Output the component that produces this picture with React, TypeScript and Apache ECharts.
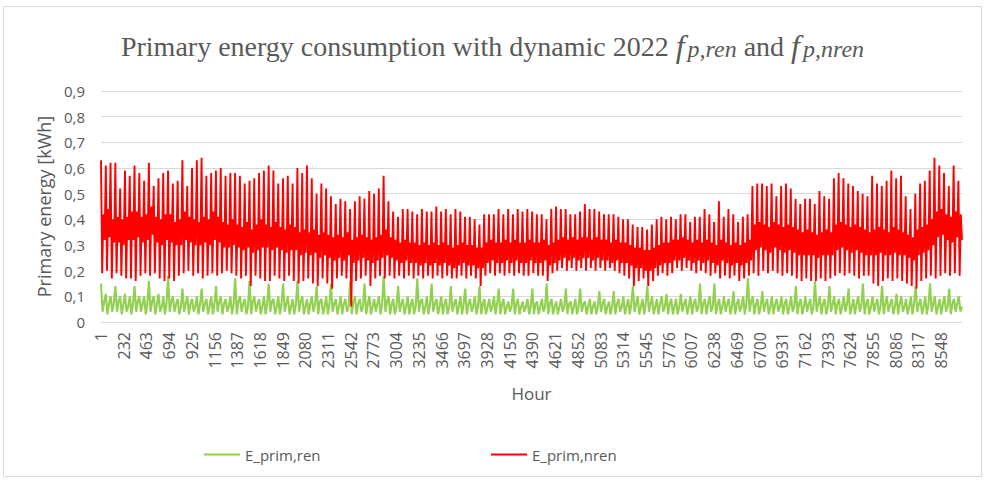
import React, { useEffect, useRef } from "react";
import * as echarts from "echarts";

// Hour categories 1..8760
const HOURS = 8760;
const hourLabels: string[] = Array.from({ length: HOURS }, (_, i) => String(i + 1));

// E_prim,nren readings, one group per ~2-day span: peak, trough, upper core, lower core
const nrenHigh = [
  0.63,0.61,0.62,0.62,0.52,0.59,0.57,0.61,0.58,0.55,
  0.62,0.53,0.56,0.58,0.59,0.54,0.55,0.63,0.53,0.60,
  0.63,0.64,0.57,0.58,0.59,0.60,0.57,0.58,0.58,0.57,
  0.54,0.55,0.56,0.58,0.59,0.61,0.59,0.54,0.56,0.57,
  0.54,0.60,0.58,0.61,0.56,0.50,0.54,0.52,0.49,0.46,
  0.48,0.47,0.44,0.47,0.49,0.48,0.51,0.50,0.52,0.57,
  0.47,0.43,0.41,0.44,0.44,0.43,0.42,0.44,0.43,0.43,
  0.45,0.43,0.44,0.42,0.44,0.43,0.41,0.41,0.40,0.38,
  0.42,0.42,0.42,0.44,0.42,0.44,0.42,0.44,0.43,0.44,
  0.43,0.42,0.42,0.40,0.44,0.45,0.44,0.44,0.42,0.42,
  0.43,0.46,0.44,0.44,0.43,0.42,0.42,0.42,0.41,0.40,
  0.40,0.38,0.37,0.37,0.36,0.38,0.40,0.41,0.40,0.41,
  0.40,0.42,0.42,0.39,0.41,0.41,0.44,0.42,0.39,0.47,
  0.41,0.44,0.42,0.39,0.41,0.42,0.53,0.54,0.54,0.53,
  0.54,0.49,0.53,0.54,0.52,0.48,0.46,0.48,0.48,0.46,
  0.51,0.49,0.48,0.56,0.58,0.56,0.54,0.53,0.51,0.50,
  0.49,0.57,0.54,0.53,0.55,0.59,0.56,0.57,0.49,0.44,
  0.50,0.54,0.55,0.59,0.64,0.61,0.58,0.53,0.61,0.55,
];
const nrenLow = [
  0.19,0.20,0.17,0.19,0.18,0.17,0.17,0.16,0.18,0.19,
  0.18,0.19,0.17,0.16,0.17,0.16,0.18,0.19,0.20,0.18,
  0.19,0.17,0.18,0.19,0.18,0.19,0.20,0.19,0.18,0.17,
  0.18,0.14,0.18,0.17,0.16,0.16,0.18,0.17,0.16,0.18,
  0.16,0.15,0.16,0.17,0.15,0.14,0.17,0.15,0.13,0.17,
  0.18,0.17,0.06,0.16,0.17,0.18,0.14,0.17,0.18,0.17,
  0.18,0.17,0.18,0.17,0.18,0.17,0.18,0.17,0.18,0.17,
  0.18,0.17,0.18,0.17,0.17,0.18,0.17,0.18,0.17,0.14,
  0.18,0.19,0.18,0.19,0.18,0.19,0.18,0.19,0.18,0.18,
  0.19,0.18,0.18,0.16,0.19,0.20,0.21,0.20,0.21,0.20,
  0.21,0.20,0.21,0.20,0.21,0.20,0.21,0.20,0.19,0.18,
  0.17,0.14,0.16,0.17,0.14,0.16,0.18,0.19,0.18,0.19,
  0.21,0.20,0.21,0.20,0.19,0.20,0.19,0.18,0.19,0.17,
  0.18,0.17,0.18,0.16,0.17,0.18,0.19,0.18,0.20,0.19,
  0.20,0.19,0.18,0.19,0.18,0.17,0.16,0.17,0.16,0.16,
  0.17,0.16,0.17,0.18,0.19,0.18,0.19,0.18,0.17,0.18,
  0.18,0.15,0.14,0.16,0.17,0.16,0.17,0.16,0.15,0.14,
  0.13,0.16,0.17,0.18,0.17,0.18,0.19,0.18,0.19,0.18,
];
const nrenCoreUp = [
  0.42,0.44,0.40,0.41,0.40,0.41,0.43,0.43,0.41,0.42,
  0.45,0.41,0.40,0.42,0.42,0.39,0.40,0.43,0.41,0.40,
  0.39,0.41,0.40,0.43,0.41,0.39,0.38,0.40,0.38,0.37,
  0.39,0.36,0.38,0.40,0.38,0.37,0.39,0.37,0.36,0.38,
  0.37,0.35,0.36,0.35,0.36,0.34,0.35,0.34,0.33,0.34,
  0.33,0.35,0.32,0.33,0.34,0.33,0.32,0.33,0.34,0.36,
  0.33,0.32,0.31,0.32,0.31,0.31,0.30,0.31,0.30,0.31,
  0.30,0.31,0.30,0.29,0.30,0.31,0.30,0.30,0.29,0.29,
  0.31,0.32,0.31,0.31,0.32,0.31,0.32,0.31,0.31,0.32,
  0.31,0.31,0.32,0.30,0.31,0.32,0.33,0.32,0.33,0.32,
  0.33,0.33,0.32,0.33,0.32,0.32,0.31,0.32,0.31,0.31,
  0.30,0.29,0.29,0.28,0.28,0.29,0.30,0.31,0.31,0.32,
  0.32,0.33,0.32,0.31,0.32,0.31,0.32,0.31,0.30,0.32,
  0.31,0.30,0.31,0.30,0.31,0.32,0.38,0.39,0.38,0.37,
  0.39,0.38,0.37,0.38,0.37,0.36,0.35,0.36,0.35,0.34,
  0.35,0.36,0.35,0.38,0.39,0.38,0.37,0.38,0.37,0.36,
  0.35,0.36,0.37,0.36,0.35,0.37,0.36,0.35,0.34,0.33,
  0.36,0.37,0.38,0.40,0.43,0.44,0.42,0.41,0.43,0.42,
];
const nrenCoreDown = [
  0.32,0.33,0.31,0.31,0.30,0.32,0.32,0.33,0.31,0.32,
  0.34,0.31,0.30,0.32,0.31,0.30,0.30,0.32,0.31,0.30,
  0.30,0.31,0.30,0.32,0.31,0.29,0.29,0.30,0.29,0.28,
  0.29,0.27,0.28,0.29,0.29,0.28,0.29,0.28,0.27,0.28,
  0.28,0.26,0.27,0.26,0.27,0.25,0.26,0.25,0.24,0.25,
  0.24,0.26,0.23,0.24,0.25,0.24,0.23,0.24,0.25,0.26,
  0.25,0.24,0.23,0.24,0.23,0.23,0.22,0.23,0.22,0.23,
  0.22,0.23,0.22,0.21,0.22,0.23,0.22,0.22,0.21,0.21,
  0.23,0.24,0.23,0.23,0.24,0.23,0.24,0.23,0.23,0.24,
  0.23,0.23,0.24,0.22,0.23,0.24,0.25,0.24,0.25,0.24,
  0.25,0.25,0.24,0.25,0.24,0.24,0.23,0.24,0.23,0.23,
  0.22,0.21,0.21,0.20,0.20,0.21,0.22,0.23,0.23,0.24,
  0.24,0.25,0.24,0.23,0.24,0.23,0.24,0.23,0.22,0.24,
  0.23,0.22,0.23,0.22,0.23,0.24,0.28,0.29,0.28,0.27,
  0.29,0.28,0.27,0.28,0.27,0.26,0.26,0.26,0.26,0.25,
  0.26,0.26,0.26,0.28,0.29,0.28,0.27,0.28,0.27,0.26,
  0.26,0.26,0.27,0.26,0.26,0.27,0.26,0.26,0.25,0.24,
  0.26,0.27,0.28,0.30,0.33,0.34,0.32,0.31,0.33,0.32,
];

// E_prim,ren readings, one group per ~2-day span: peak, trough, middle
const renHigh = [
  0.15,0.11,0.10,0.14,0.10,0.11,0.10,0.14,0.10,0.10,
  0.16,0.10,0.11,0.10,0.18,0.10,0.09,0.13,0.10,0.09,
  0.10,0.13,0.09,0.10,0.14,0.10,0.09,0.10,0.17,0.10,
  0.09,0.16,0.10,0.09,0.10,0.15,0.09,0.10,0.15,0.10,
  0.09,0.16,0.10,0.09,0.10,0.14,0.09,0.10,0.15,0.09,
  0.10,0.09,0.16,0.10,0.09,0.15,0.10,0.09,0.10,0.18,
  0.10,0.09,0.14,0.09,0.10,0.09,0.17,0.09,0.10,0.15,
  0.09,0.10,0.09,0.14,0.09,0.10,0.13,0.09,0.10,0.14,
  0.09,0.09,0.10,0.13,0.09,0.08,0.13,0.09,0.08,0.09,
  0.13,0.08,0.09,0.15,0.09,0.08,0.09,0.13,0.08,0.09,
  0.13,0.08,0.09,0.08,0.12,0.09,0.08,0.12,0.09,0.10,
  0.09,0.14,0.10,0.09,0.14,0.10,0.09,0.10,0.11,0.09,
  0.09,0.11,0.09,0.10,0.09,0.15,0.09,0.10,0.15,0.09,
  0.10,0.09,0.12,0.09,0.10,0.17,0.10,0.09,0.12,0.09,
  0.10,0.09,0.10,0.09,0.10,0.14,0.09,0.10,0.09,0.16,
  0.10,0.09,0.14,0.10,0.09,0.10,0.13,0.09,0.10,0.15,
  0.09,0.10,0.09,0.14,0.10,0.09,0.11,0.10,0.09,0.10,
  0.14,0.09,0.10,0.15,0.10,0.09,0.10,0.13,0.09,0.10,
];
const renLow = [
  0.04,0.03,0.04,0.04,0.03,0.04,0.03,0.04,0.04,0.03,
  0.04,0.03,0.04,0.03,0.04,0.04,0.03,0.04,0.03,0.04,
  0.03,0.04,0.03,0.03,0.04,0.03,0.04,0.03,0.03,0.04,
  0.03,0.03,0.04,0.03,0.03,0.04,0.03,0.03,0.04,0.03,
  0.03,0.04,0.03,0.03,0.04,0.03,0.03,0.03,0.04,0.03,
  0.03,0.04,0.03,0.03,0.04,0.03,0.03,0.04,0.03,0.04,
  0.03,0.03,0.04,0.03,0.03,0.03,0.04,0.03,0.03,0.04,
  0.03,0.03,0.03,0.04,0.03,0.03,0.03,0.04,0.03,0.03,
  0.03,0.04,0.03,0.03,0.03,0.04,0.03,0.03,0.04,0.03,
  0.03,0.03,0.04,0.03,0.03,0.03,0.04,0.03,0.03,0.03,
  0.04,0.03,0.03,0.03,0.04,0.03,0.03,0.03,0.04,0.03,
  0.03,0.04,0.03,0.03,0.04,0.03,0.03,0.04,0.03,0.03,
  0.03,0.04,0.03,0.03,0.04,0.03,0.03,0.04,0.03,0.03,
  0.04,0.03,0.03,0.04,0.03,0.04,0.03,0.03,0.04,0.03,
  0.03,0.04,0.03,0.03,0.04,0.03,0.03,0.04,0.03,0.04,
  0.03,0.03,0.04,0.03,0.03,0.04,0.03,0.03,0.04,0.03,
  0.03,0.04,0.03,0.03,0.04,0.03,0.03,0.04,0.03,0.03,
  0.04,0.03,0.03,0.04,0.03,0.03,0.04,0.03,0.04,0.04,
];
const renMid = [
  0.08,0.07,0.07,0.08,0.07,0.06,0.07,0.08,0.07,0.07,
  0.08,0.07,0.06,0.07,0.08,0.07,0.06,0.07,0.07,0.06,
  0.07,0.07,0.06,0.07,0.08,0.07,0.06,0.07,0.08,0.07,
  0.06,0.08,0.07,0.06,0.07,0.08,0.06,0.07,0.07,0.06,
  0.07,0.08,0.06,0.07,0.07,0.08,0.06,0.07,0.07,0.06,
  0.07,0.06,0.08,0.07,0.06,0.07,0.06,0.07,0.07,0.08,
  0.07,0.06,0.07,0.06,0.07,0.06,0.08,0.06,0.07,0.07,
  0.06,0.07,0.06,0.07,0.06,0.07,0.07,0.06,0.06,0.07,
  0.06,0.06,0.07,0.07,0.06,0.06,0.07,0.06,0.06,0.06,
  0.07,0.06,0.06,0.07,0.06,0.06,0.06,0.07,0.06,0.06,
  0.07,0.06,0.06,0.06,0.07,0.06,0.06,0.07,0.06,0.06,
  0.07,0.07,0.06,0.07,0.07,0.06,0.07,0.06,0.07,0.06,
  0.06,0.07,0.06,0.07,0.06,0.07,0.07,0.06,0.07,0.06,
  0.07,0.06,0.07,0.06,0.07,0.08,0.07,0.06,0.07,0.06,
  0.07,0.06,0.07,0.06,0.06,0.07,0.06,0.07,0.06,0.07,
  0.07,0.06,0.07,0.07,0.06,0.07,0.06,0.07,0.06,0.07,
  0.06,0.07,0.06,0.07,0.07,0.06,0.07,0.06,0.06,0.07,
  0.07,0.06,0.07,0.07,0.06,0.07,0.06,0.07,0.07,0.06,
];

const seriesNames = ["E_prim,ren", "E_prim,nren"];

// Place the readings in time order across the 8760 hour categories
function placeReadings(cols: number[][]): [number, number][] {
  const n = cols[0].length;
  const k = cols.length;
  const total = n * k;
  const out: [number, number][] = [];
  for (let i = 0; i < n; i++) {
    for (let j = 0; j < k; j++) {
      const idx = i * k + j;
      out.push([Math.round((idx * (HOURS - 1)) / (total - 1)), cols[j][i]]);
    }
  }
  return out;
}

const TXT = "#595959";
const SANS = "'Open Sans', sans-serif";
const SERIF = "'Liberation Serif', 'DejaVu Serif', serif";

export default function App() {
  const ref = useRef<HTMLDivElement>(null);
  useEffect(() => {
    if (!ref.current) return;
    const chart = echarts.init(ref.current, null, { renderer: "svg" });
    const legendBase = {
      icon: "rect",
      itemWidth: 36,
      itemHeight: 2,
      top: 442,
      textStyle: { color: TXT, fontSize: 15, fontFamily: SANS },
    };
    chart.setOption({
      animation: false,
      backgroundColor: "#ffffff",
      title: {
        text:
          "{a|Primary energy consumption with dynamic 2022 }{f|f}{s|p,ren}{a| and }{f|f}{s|p,nren}",
        left: "center",
        top: 25,
        textStyle: {
          fontWeight: "normal",
          rich: {
            a: { fontFamily: SERIF, fontSize: 28, fontWeight: "normal", color: TXT },
            f: { fontFamily: SERIF, fontSize: 32, fontWeight: "normal", fontStyle: "italic", color: TXT },
            s: { fontFamily: SERIF, fontSize: 24, fontWeight: "normal", fontStyle: "italic", color: TXT, padding: [6, 0, 0, 3] },
          },
        },
      },
      graphic: [
        {
          type: "rect",
          shape: { x: 3.5, y: 6.5, width: 978, height: 470 },
          style: { fill: "none", stroke: "#d9d9d9", lineWidth: 1 },
          silent: true,
          z: -10,
        },
      ],
      legend: [
        { ...legendBase, left: 199, data: [seriesNames[0]] },
        { ...legendBase, left: 486, data: [seriesNames[1]] },
      ],
      grid: { left: 101, right: 23, top: 91, bottom: 158 },
      xAxis: {
        type: "category",
        data: hourLabels,
        boundaryGap: false,
        name: "Hour",
        nameLocation: "middle",
        nameGap: 63,
        nameTextStyle: { color: TXT, fontSize: 17, fontFamily: SANS },
        axisLine: { lineStyle: { color: "#d9d9d9", width: 1 } },
        axisTick: { show: false },
        axisLabel: {
          interval: 230,
          rotate: 90,
          margin: 10,
          color: TXT,
          fontSize: 16,
          fontFamily: SANS,
        },
        splitLine: { show: false },
      },
      yAxis: {
        type: "value",
        min: 0,
        max: 0.9,
        interval: 0.1,
        name: "Primary energy [kWh]",
        nameLocation: "middle",
        nameGap: 46,
        nameTextStyle: { color: TXT, fontSize: 18, fontFamily: SANS },
        axisLine: { show: false },
        axisTick: { show: false },
        axisLabel: {
          margin: 16,
          color: TXT,
          fontSize: 15,
          fontFamily: SANS,
          formatter: (v: number) => (v === 0 ? "0" : v.toFixed(1).replace(".", ",")),
        },
        splitLine: { lineStyle: { color: "#d9d9d9", width: 1 } },
      },
      series: [
        {
          name: seriesNames[0],
          type: "line",
          data: placeReadings([renHigh, renLow, renMid]),
          showSymbol: false,
          symbol: "none",
          itemStyle: { color: "#92D050" },
          lineStyle: { color: "#92D050", width: 2.1 },
        },
        {
          name: seriesNames[1],
          type: "line",
          data: placeReadings([nrenHigh, nrenLow, nrenCoreUp, nrenCoreDown]),
          showSymbol: false,
          symbol: "none",
          itemStyle: { color: "#FF0000" },
          lineStyle: { color: "#FF0000", width: 1.9 },
        },
      ],
    });
    return () => chart.dispose();
  }, []);
  return (
    <div
      ref={ref}
      style={{ position: "absolute", left: 0, top: 0, width: 985, height: 480 }}
    />
  );
}
